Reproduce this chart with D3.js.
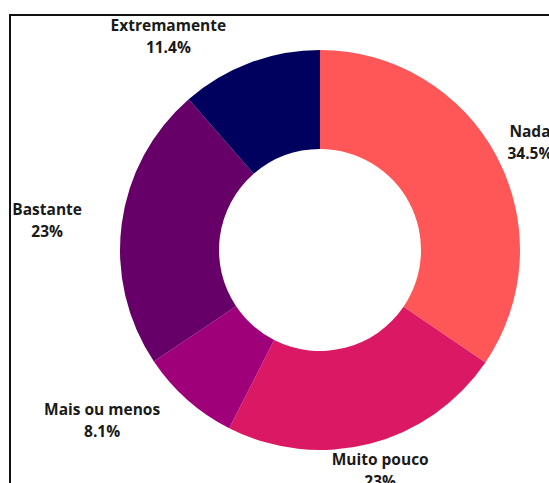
<!DOCTYPE html>
<html>
<head>
<meta charset="utf-8">
<script src="https://cdn.jsdelivr.net/npm/d3@7"></script>
<style>
  html, body { margin: 0; padding: 0; background: #fff; overflow: hidden; }
  svg { display: block; }
  .lbl { font-family: "Open Sans", "Noto Sans", sans-serif; font-weight: 700; font-size: 15.5px; fill: #1a1a1a; }
</style>
</head>
<body>
<svg id="chart" width="549" height="483"></svg>
<script>
// Response categories, in drawing order (clockwise from 12 o'clock)
const categories = ["Nada", "Muito pouco", "Mais ou menos", "Bastante", "Extremamente"];
// Share of responses, percent
const shares = [34.5, 23, 8.1, 23, 11.4];
// Slice colours
const colors = ["#ff5757", "#da1864", "#9f007a", "#660068", "#00005e"];
// Printed value labels
const shareLabels = ["34.5%", "23%", "8.1%", "23%", "11.4%"];

const width = 549, height = 483;
const cx = 320, cy = 250;
const outerR = 200, innerR = 101;

const svg = d3.select("#chart");

// Frame around the chart area
svg.append("rect")
  .attr("x", 10).attr("y", 15)
  .attr("width", 600).attr("height", 600)
  .attr("fill", "none")
  .attr("stroke", "#111")
  .attr("stroke-width", 2);

const data = categories.map((c, i) => ({ name: c, value: shares[i], color: colors[i], label: shareLabels[i] }));

const pie = d3.pie().value(d => d.value).sort(null);
const arcs = pie(data);

const arc = d3.arc().innerRadius(innerR).outerRadius(outerR);
const labelArc = d3.arc().innerRadius(250).outerRadius(250);

const g = svg.append("g").attr("transform", `translate(${cx},${cy})`);

g.selectAll("path.slice")
  .data(arcs)
  .join("path")
  .attr("class", "slice")
  .attr("d", arc)
  .attr("fill", d => d.data.color);

// Outside labels: start at the slice centroid on a wider ring, then
// shift each so it sits clear of its neighbours and the frame.
const labelShift = {
  "Nada": [-11, 10],
  "Muito pouco": [-2, -21],
  "Mais ou menos": [-52, -16],
  "Bastante": [-25, 4],
  "Extremamente": [-64, 21]
};

const labels = g.selectAll("text.lbl")
  .data(arcs)
  .join("text")
  .attr("class", "lbl")
  .attr("text-anchor", "middle")
  .attr("transform", d => {
    const [x, y] = labelArc.centroid(d);
    const [sx, sy] = labelShift[d.data.name];
    return `translate(${x + sx},${y + sy})`;
  });

labels.append("tspan").attr("x", 0).attr("y", -6).text(d => d.data.name);
labels.append("tspan").attr("x", 0).attr("y", 16).text(d => d.data.label);
</script>
</body>
</html>
